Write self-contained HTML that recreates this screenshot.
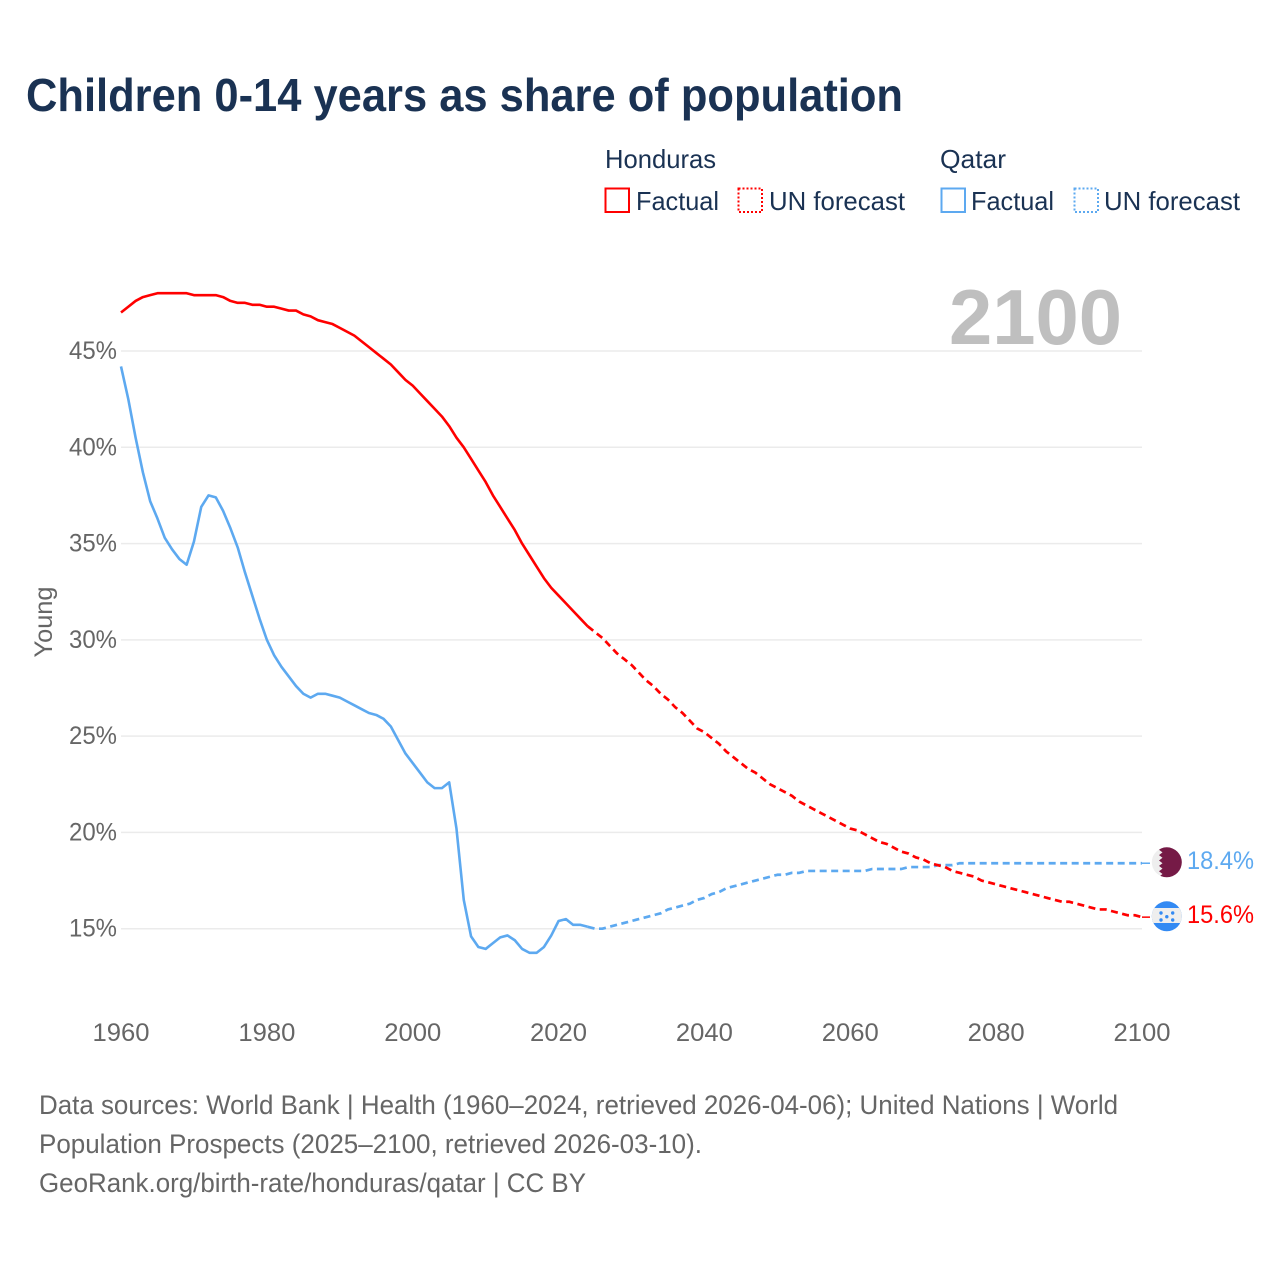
<!DOCTYPE html>
<html lang="en">
<head>
<meta charset="utf-8">
<title>Children 0-14 years as share of population</title>
<style>
html,body{margin:0;padding:0;background:#fff;width:1280px;height:1280px;overflow:hidden}
svg{display:block}
text{font-family:"Liberation Sans",sans-serif}
</style>
</head>
<body>
<svg id="chart" xmlns="http://www.w3.org/2000/svg" width="1280" height="1280" viewBox="0 0 1280 1280">
  <defs>
    <clipPath id="clip-qatar"><circle cx="1166.8" cy="862.3" r="15"/></clipPath>
    <clipPath id="clip-honduras"><circle cx="1166.8" cy="916.3" r="15"/></clipPath>
  </defs>
  <rect x="0" y="0" width="1280" height="1280" fill="#fff"/>
  <text x="26" y="111" font-size="46" font-weight="700" fill="#1a3253" textLength="877" lengthAdjust="spacingAndGlyphs">Children 0-14 years as share of population</text>

  <g font-size="26" fill="#1a3253">
    <text x="605" y="168" textLength="111" lengthAdjust="spacingAndGlyphs">Honduras</text>
    <rect x="605.5" y="188.5" width="23.5" height="23.5" fill="none" stroke="#ff0000" stroke-width="2"/>
    <text x="636" y="210" textLength="83" lengthAdjust="spacingAndGlyphs">Factual</text>
    <rect x="738.5" y="188.5" width="23.5" height="23.5" fill="none" stroke="#ff0000" stroke-width="2" stroke-dasharray="2 2"/>
    <text x="769" y="210" textLength="136" lengthAdjust="spacingAndGlyphs">UN forecast</text>
    <text x="940" y="168" textLength="66" lengthAdjust="spacingAndGlyphs">Qatar</text>
    <rect x="941.5" y="188.5" width="23.5" height="23.5" fill="none" stroke="#5da9f0" stroke-width="2"/>
    <text x="971" y="210" textLength="83" lengthAdjust="spacingAndGlyphs">Factual</text>
    <rect x="1074.5" y="188.5" width="23.5" height="23.5" fill="none" stroke="#5da9f0" stroke-width="2" stroke-dasharray="2 2"/>
    <text x="1104" y="210" textLength="136" lengthAdjust="spacingAndGlyphs">UN forecast</text>
  </g>

  <g id="grid"></g>
  <text x="949" y="344" font-size="78" font-weight="700" fill="#bfbfbf" textLength="173" lengthAdjust="spacingAndGlyphs">2100</text>
  <g id="y-ticks"></g>
  <g id="x-ticks"></g>
  <text transform="translate(52,622) rotate(-90)" text-anchor="middle" font-size="25" fill="#666" textLength="71" lengthAdjust="spacingAndGlyphs">Young</text>
  <g id="series"></g>

  <g clip-path="url(#clip-qatar)">
    <rect x="1151" y="847" width="32" height="31" fill="#eeeeee"/>
    <path d="M1183 847H1162.5l-3.5 2.7 3.5 2.7-3.5 2.7 3.5 2.7-3.5 2.7 3.5 2.7-3.5 2.7 3.5 2.7-3.5 2.7 3.5 2.7-3.5 2.7 3.5 2.7-3.5 1V878H1183Z" fill="#751a46"/>
  </g>
  <g clip-path="url(#clip-honduras)">
    <rect x="1151" y="901" width="32" height="31" fill="#338af3"/>
    <rect x="1151" y="908" width="32" height="15" fill="#eeeeee"/>
    <g fill="#338af3">
      <circle cx="1161" cy="913" r="1.7"/><circle cx="1172.7" cy="913" r="1.7"/>
      <circle cx="1166.8" cy="916.7" r="1.7"/>
      <circle cx="1161" cy="920" r="1.7"/><circle cx="1172.7" cy="920" r="1.7"/>
    </g>
  </g>
  <text x="1187" y="869" font-size="25" fill="#5da9f0" textLength="67" lengthAdjust="spacingAndGlyphs">18.4%</text>
  <text x="1187" y="923" font-size="25" fill="#ff0000" textLength="67" lengthAdjust="spacingAndGlyphs">15.6%</text>

  <g font-size="27" fill="#666">
    <text x="39" y="1114" textLength="1079" lengthAdjust="spacingAndGlyphs">Data sources: World Bank | Health (1960–2024, retrieved 2026-04-06); United Nations | World</text>
    <text x="39" y="1153" textLength="663" lengthAdjust="spacingAndGlyphs">Population Prospects (2025–2100, retrieved 2026-03-10).</text>
    <text x="39" y="1192" textLength="547" lengthAdjust="spacingAndGlyphs">GeoRank.org/birth-rate/honduras/qatar | CC BY</text>
  </g>
</svg>
<script>
const yTickValues = [15, 20, 25, 30, 35, 40, 45];
const xTickYears = [1960, 1980, 2000, 2020, 2040, 2060, 2080, 2100];
const firstYear = 1960;
const lastFactualYear = 2024;
const hondurasFactual = [47.0,47.3,47.6,47.8,47.9,48.0,48.0,48.0,48.0,48.0,47.9,47.9,47.9,47.9,47.8,47.6,47.5,47.5,47.4,47.4,47.3,47.3,47.2,47.1,47.1,46.9,46.8,46.6,46.5,46.4,46.2,46.0,45.8,45.5,45.2,44.9,44.6,44.3,43.9,43.5,43.2,42.8,42.4,42.0,41.6,41.1,40.5,40.0,39.4,38.8,38.2,37.5,36.9,36.3,35.7,35.0,34.4,33.8,33.2,32.7,32.3,31.9,31.5,31.1,30.7];
const hondurasForecast = [30.4,30.1,29.7,29.3,29.0,28.7,28.3,27.9,27.6,27.2,26.9,26.5,26.2,25.8,25.4,25.2,24.9,24.6,24.2,23.9,23.6,23.3,23.1,22.8,22.5,22.3,22.1,21.9,21.6,21.4,21.2,21.0,20.8,20.6,20.4,20.2,20.1,19.9,19.7,19.5,19.4,19.2,19.0,18.9,18.7,18.6,18.4,18.3,18.2,18.0,17.9,17.8,17.7,17.5,17.4,17.3,17.2,17.1,17.0,16.9,16.8,16.7,16.6,16.5,16.4,16.4,16.3,16.2,16.1,16.0,16.0,15.9,15.8,15.7,15.7,15.6];
const qatarFactual = [44.2,42.5,40.5,38.7,37.2,36.3,35.3,34.7,34.2,33.9,35.1,36.9,37.5,37.4,36.7,35.8,34.8,33.5,32.3,31.1,30.0,29.2,28.6,28.1,27.6,27.2,27.0,27.2,27.2,27.1,27.0,26.8,26.6,26.4,26.2,26.1,25.9,25.5,24.8,24.1,23.6,23.1,22.6,22.3,22.3,22.6,20.2,16.5,14.6,14.05,13.95,14.25,14.55,14.65,14.4,13.95,13.75,13.75,14.05,14.65,15.4,15.5,15.2,15.2,15.1];
const qatarForecast = [15.0,15.0,15.1,15.2,15.3,15.4,15.5,15.6,15.7,15.8,16.0,16.1,16.2,16.3,16.5,16.6,16.8,16.9,17.1,17.2,17.3,17.4,17.5,17.6,17.7,17.8,17.8,17.9,17.9,18.0,18.0,18.0,18.0,18.0,18.0,18.0,18.0,18.0,18.1,18.1,18.1,18.1,18.1,18.2,18.2,18.2,18.2,18.3,18.3,18.3,18.4,18.4,18.4,18.4,18.4,18.4,18.4,18.4,18.4,18.4,18.4,18.4,18.4,18.4,18.4,18.4,18.4,18.4,18.4,18.4,18.4,18.4,18.4,18.4,18.4,18.4];

const SVG_NS = 'http://www.w3.org/2000/svg';
const xScale = year => 121 + (year - 1960) * (1142 - 121) / 140;
const yScale = value => 928.7 - (value - 15) * (928.7 - 351) / 30;

function make(tag, attrs, parent, text) {
  const el = document.createElementNS(SVG_NS, tag);
  for (const k in attrs) el.setAttribute(k, attrs[k]);
  if (text !== undefined) el.textContent = text;
  parent.appendChild(el);
  return el;
}

const gridGroup = document.getElementById('grid');
const yGroup = document.getElementById('y-ticks');
const xGroup = document.getElementById('x-ticks');
const seriesGroup = document.getElementById('series');

yTickValues.forEach(v => {
  const line = make('line', {x1: 121, x2: 1142, y1: yScale(v), y2: yScale(v), stroke: '#ebebeb', 'stroke-width': 1.5}, gridGroup);
  
  
  const label = make('text', {x: 117, y: yScale(v) + 8, 'text-anchor': 'end', 'font-size': 25, fill: '#666', textLength: 48, lengthAdjust: 'spacingAndGlyphs'}, yGroup, v + '%');
  
  
});

xTickYears.forEach(y => {
  const label = make('text', {x: xScale(y), y: 1041, 'text-anchor': 'middle', 'font-size': 25, fill: '#666', textLength: 57, lengthAdjust: 'spacingAndGlyphs'}, xGroup, String(y));
  
  
});

function pointsFrom(values, startYear, prefix) {
  return prefix.concat(values.map((v, i) => xScale(startYear + i).toFixed(2) + ',' + yScale(v).toFixed(2))).join(' ');
}

function drawSeries(factual, forecast, color, key) {
  const lastFactual = factual[factual.length - 1];
  const anchor = xScale(lastFactualYear).toFixed(2) + ',' + yScale(lastFactual).toFixed(2);
  const finalValue = forecast[forecast.length - 1];
  const forecastLine = make('polyline', {
    points: pointsFrom(forecast, lastFactualYear + 1, [anchor]),
    fill: 'none', stroke: color, 'stroke-width': 2.7, 'stroke-dasharray': '7 4.5', 'stroke-linejoin': 'round'
  }, seriesGroup);
  
  
  const connector = make('line', {
    x1: xScale(2100), x2: 1150, y1: yScale(finalValue), y2: yScale(finalValue),
    stroke: color, 'stroke-width': 1.5
  }, seriesGroup);
  
  
  const factualLine = make('polyline', {
    points: pointsFrom(factual, firstYear, []),
    fill: 'none', stroke: color, 'stroke-width': 2.6, 'stroke-linejoin': 'round'
  }, seriesGroup);
  
  
}

drawSeries(qatarFactual, qatarForecast, '#5da9f0', 'qatar');
drawSeries(hondurasFactual, hondurasForecast, '#ff0000', 'honduras');
</script>
</body>
</html>
